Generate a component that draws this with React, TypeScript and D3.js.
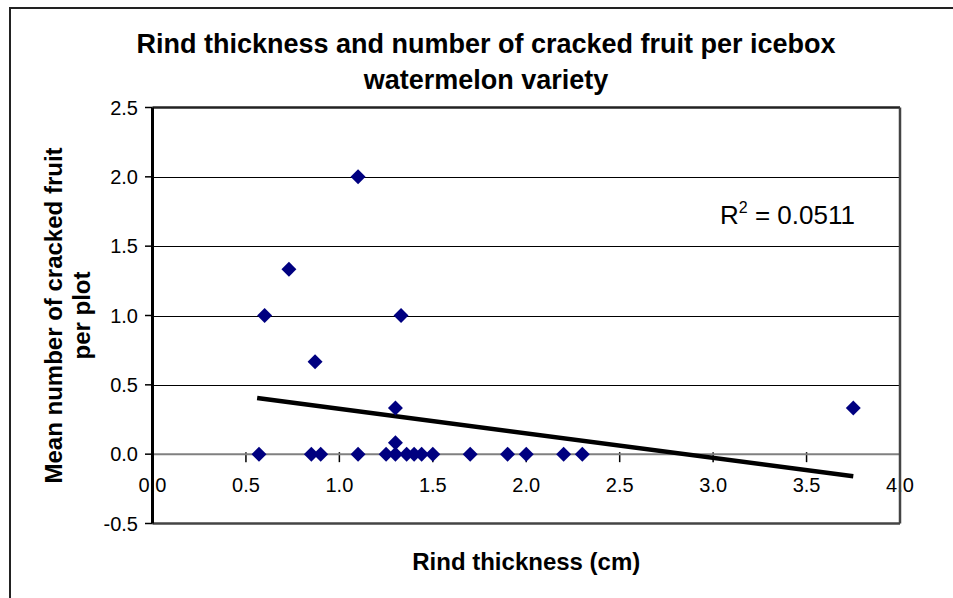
import React from 'react';
import * as d3 from 'd3';

// rind thickness (cm) and mean cracked fruit per plot, one entry per variety
const rindThickness = [0.57, 0.6, 0.73, 0.85, 0.87, 0.9, 1.1, 1.1, 1.25, 1.3, 1.3, 1.3, 1.33, 1.36, 1.4, 1.44, 1.5, 1.7, 1.9, 2.0, 2.2, 2.3, 3.75];
const crackedFruit = [0, 1, 1.333, 0, 0.667, 0, 2, 0, 0, 0.333, 0.083, 0, 1, 0, 0, 0, 0, 0, 0, 0, 0, 0, 0.333];

// linear trendline
const trendSlope = -0.177;
const trendIntercept = 0.504;
const rSquared = '0.0511';

const xTicks = [0, 0.5, 1, 1.5, 2, 2.5, 3, 3.5, 4];
const yTicks = [-0.5, 0, 0.5, 1, 1.5, 2, 2.5];

const titleLines = ['Rind thickness and number of cracked fruit per icebox', 'watermelon variety'];
const xTitle = 'Rind thickness (cm)';
const yTitleLines = ['Mean number of cracked fruit', 'per plot'];

const W = 953;
const H = 598;
const left = 152.5, right = 900, top = 107.5, bottom = 523.5;
const font = '"Liberation Sans", Arial, sans-serif';

// excel style: plain hyphen for negatives
const fmt = (v: number) => d3.format('.1f')(v).replace('\u2212', '-');

export default function App() {
  const x = d3.scaleLinear().domain([0, 4]).range([left, right]);
  const y = d3.scaleLinear().domain([-0.5, 2.5]).range([bottom, top]);

  const pts = rindThickness.map((v, i) => ({ x: v, y: crackedFruit[i] }));
  const diamond = d3.symbol(d3.symbolSquare, 112)();
  const [x0, x1] = d3.extent(rindThickness) as [number, number];
  const trend = d3.line<number>()
    .x(d => x(d))
    .y(d => y(trendIntercept + trendSlope * d));

  const y0 = y(0);

  return (
    <svg width={W} height={H} style={{ position: 'absolute', left: 0, top: 0, background: '#fff' }} fontFamily={font}>
      <rect x={10} y={8} width={970} height={620} fill="#fff" stroke="#222" strokeWidth={2} />

      {titleLines.map((t, i) => (
        <text key={t} x={486} y={53 + i * 36} textAnchor="middle" fontSize={27} fontWeight="bold">{t}</text>
      ))}

      {/* gridlines */}
      {yTicks.filter(t => t > -0.5 && t < 2.5 && t !== 0).map(t => (
        <line key={t} x1={left} x2={right} y1={Math.round(y(t)) + 0.5} y2={Math.round(y(t)) + 0.5} stroke="#000" strokeWidth={1} />
      ))}

      {/* y tick labels and ticks */}
      {yTicks.map(t => (
        <g key={t}>
          <text x={138} y={y(t)} dy="0.36em" textAnchor="end" fontSize={20}>{fmt(t)}</text>
          <line x1={145} x2={left} y1={y(t)} y2={y(t)} stroke="#000" strokeWidth={1.5} />
        </g>
      ))}

      {/* x tick labels, ticks */}
      {xTicks.map(t => (
        <g key={t}>
          <text x={x(t)} y={492} textAnchor="middle" fontSize={20}>{fmt(t)}</text>
          <line x1={x(t)} x2={x(t)} y1={y0 - 2} y2={y0 + 8} stroke="#000" strokeWidth={1.5} />
        </g>
      ))}

      {/* x axis at zero */}
      <line x1={left} x2={right} y1={y0} y2={y0} stroke="#808080" strokeWidth={2} />

      {/* plot border */}
      <line x1={left} x2={right} y1={top} y2={top} stroke="#222" strokeWidth={2.5} />
      <line x1={right} x2={right} y1={top} y2={bottom} stroke="#444" strokeWidth={2.5} />
      <line x1={left} x2={right} y1={bottom} y2={bottom} stroke="#444" strokeWidth={2.5} />
      <line x1={left} x2={left} y1={top} y2={bottom} stroke="#000" strokeWidth={3} />

      {/* trendline */}
      <path d={trend([x0 - 0.01, x1]) || ''} fill="none" stroke="#000" strokeWidth={4.5} />

      {pts.map((p, i) => (
        <path key={i} d={diamond || ''} transform={`translate(${x(p.x)},${y(p.y)}) rotate(45)`} fill="#000080" />
      ))}

      <text x={720} y={224} fontSize={26}>
        R<tspan dy={-11} fontSize={16}>2</tspan><tspan dy={11}> = {rSquared}</tspan>
      </text>

      <text x={(left + right) / 2} y={570} textAnchor="middle" fontSize={24} fontWeight="bold">{xTitle}</text>

      <g transform={`translate(62,${(top + bottom) / 2}) rotate(-90)`}>
        {yTitleLines.map((t, i) => (
          <text key={t} x={0} y={i * 28} textAnchor="middle" fontSize={24} fontWeight="bold">{t}</text>
        ))}
      </g>
    </svg>
  );
}
